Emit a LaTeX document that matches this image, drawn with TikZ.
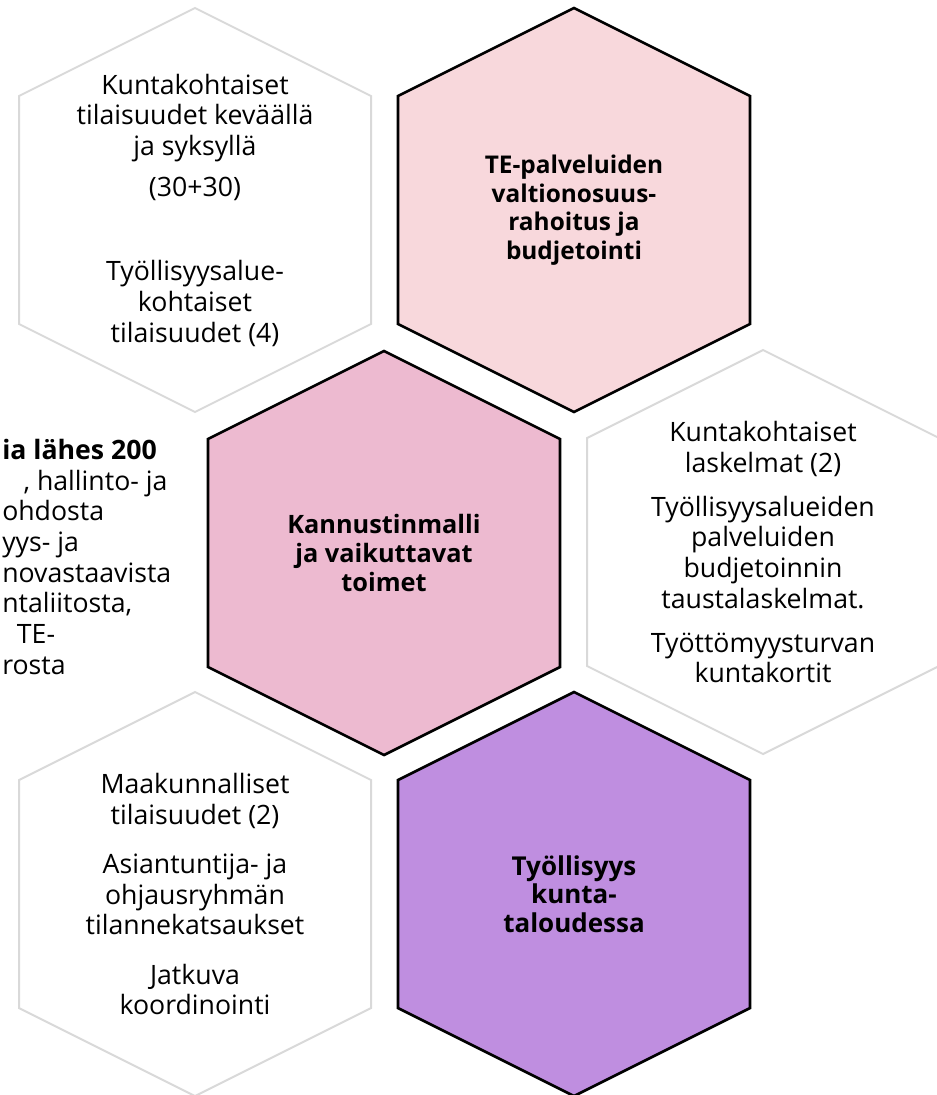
\documentclass[tikz,border=0pt]{standalone}
\usepackage{fontspec}
\setmainfont{Open Sans}

\definecolor{tepink}{HTML}{F8D8DC}
\definecolor{kpink}{HTML}{EDBAD0}
\definecolor{tpurple}{HTML}{BF8EE0}
\definecolor{hexgray}{HTML}{D9D9D9}

% one stretched hexagon round a centre
\newcommand{\hexa}[2]{\draw[#1] (#2) ++(0,-202) -- ++(176,88) -- ++(0,228)
  -- ++(-176,88) -- ++(-176,-88) -- ++(0,-228) -- cycle;}

\begin{document}
\begin{tikzpicture}[x=0.75pt, y=-0.75pt,
    plain/.style={draw=hexgray, line width=1.5pt},
    main/.style={draw=black, line width=2pt, fill=#1},
    txt/.style={align=center, inner sep=0pt, font=\fontsize{20}{23}\selectfont},
    boldtxt/.style={align=center, inner sep=0pt, font=\fontsize{#1}{21.5}\selectfont\bfseries},
    boldtxt/.default=19]
  \clip (0,0) rectangle (937,1095);

  \coordinate (tilat) at (195,210);
  \coordinate (te) at (574,210);
  \coordinate (kannustin) at (384,553);
  \coordinate (laskelmat) at (763,552);
  \coordinate (maakunta) at (195,894);
  \coordinate (talous) at (574,894);

  \hexa{plain}{tilat}
  \hexa{main=tepink}{te}
  \hexa{main=kpink}{kannustin}
  \hexa{plain}{laskelmat}
  \hexa{plain}{maakunta}
  \hexa{main=tpurple}{talous}

  \node[txt] (tilatext) at (tilat) {Kuntakohtaiset\\tilaisuudet keväällä\\ja syksyllä\\[8pt]
    (30+30)\\[40pt]Työllisyysalue-\\kohtaiset\\tilaisuudet (4)};
  \node[boldtxt=18.3] (tetext) at (te) {TE-palveluiden\\valtionosuus-\\rahoitus ja\\budjetointi};
  \node[boldtxt] (kantext) at (kannustin) {Kannustinmalli\\ja vaikuttavat\\toimet};
  \node[txt] (lasktext) at (laskelmat) {Kuntakohtaiset\\laskelmat (2)\\[10pt]
    Työllisyysalueiden\\palveluiden\\budjetoinnin\\taustalaskelmat.\\[10pt]
    Työttömyysturvan\\kuntakortit};
  \node[txt] (maaktext) at (maakunta) {Maakunnalliset\\tilaisuudet (2)\\[14pt]
    Asiantuntija- ja\\ohjausryhmän\\tilannekatsaukset\\[14pt]Jatkuva\\koordinointi};
  \node[txt, align=left, anchor=north west] (leftext) at (2,439) {\textbf{ia lähes 200}\\
    \hspace*{16pt}, hallinto- ja\\ohdosta\\yys- ja\\novastaavista\\ntaliitosta,\\
    \hspace*{11pt}TE-\\rosta};
  \node[boldtxt=19.5] (taltext) at (talous) {Työllisyys\\kunta-\\taloudessa};
\end{tikzpicture}
\end{document}
